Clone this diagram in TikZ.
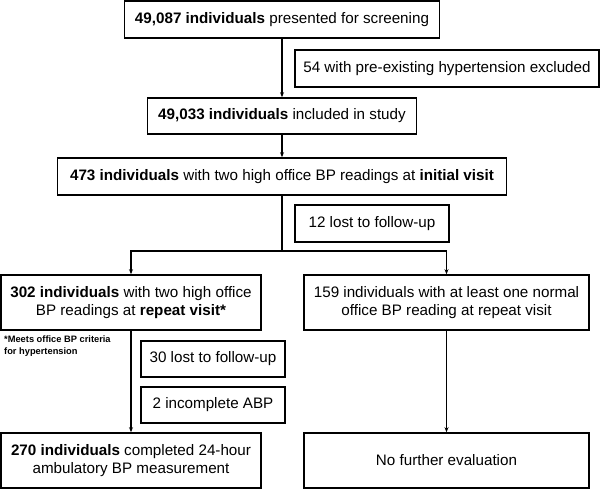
\documentclass[tikz,border=0pt]{standalone}
\usepackage{fontspec}
\setmainfont{Liberation Sans}
\usetikzlibrary{arrows.meta}
\begin{document}
\begin{tikzpicture}[x=1pt,y=-1pt,
  box/.style={draw=black, line width=1.6pt, inner sep=0pt, align=center,
    font=\fontsize{15.2}{18.5}\selectfont},
  conn/.style={line width=1.2pt, draw=black},
  arr/.style={conn, -{Stealth[length=5pt,width=4pt]}},
  note/.style={inner sep=0pt, align=left, anchor=north west,
    font=\bfseries\fontsize{9.3}{11.5}\selectfont}]
\useasboundingbox (0,0) rectangle (600,489);
\node[box, minimum width=315pt, minimum height=37pt] (b1) at (282,19.5)
  {\textbf{49,087 individuals} presented for screening};
\node[box, minimum width=304pt, minimum height=37pt] (ex) at (447,68.5)
  {54 with pre-existing hypertension excluded};
\node[box, minimum width=269pt, minimum height=36pt] (b2) at (282,116)
  {\textbf{49,033 individuals} included in study};
\node[box, minimum width=449pt, minimum height=37pt] (b3) at (282,176.5)
  {\textbf{473 individuals} with two high office BP readings at \textbf{initial visit}};
\node[box, minimum width=154pt, minimum height=37pt] (l12) at (372,223.5)
  {12 lost to follow-up};
\node[box, minimum width=260pt, minimum height=55pt] (b4) at (131,302.5)
  {\textbf{302 individuals} with two high office\\BP readings at \textbf{repeat visit*}};
\node[box, minimum width=285pt, minimum height=55pt] (b5) at (446.5,302.5)
  {159 individuals with at least one normal\\office BP reading at repeat visit};
\node[note] (fn) at (4,336) {*Meets office BP criteria\\for hypertension};
\node[box, minimum width=144pt, minimum height=36pt] (l30) at (213,359)
  {30 lost to follow-up};
\node[box, minimum width=144pt, minimum height=36pt] (inc) at (213,405)
  {2 incomplete ABP};
\node[box, minimum width=260pt, minimum height=55pt] (b6) at (131,460.5)
  {\textbf{270 individuals} completed 24-hour\\ambulatory BP measurement};
\node[box, minimum width=285pt, minimum height=55pt] (b7) at (446.5,460.5)
  {No further evaluation};
\coordinate (j) at (282,251);
\draw[arr] (b1.south) -- (b2.north);
\draw[arr] (b2.south) -- (b3.north);
\draw[conn] (b3.south) -- (j);
\draw[arr] (j) -| (b4.north);
\draw[arr] (j) -| (b5.north);
\draw[arr] (b4.south) -- (b6.north);
\draw[arr] (b5.south) -- (b7.north);
\end{tikzpicture}
\end{document}
